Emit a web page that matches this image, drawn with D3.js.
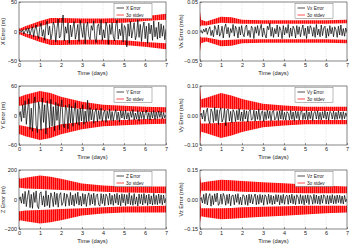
<!DOCTYPE html>
<html>
<head>
<meta charset="utf-8">
<script src="https://cdn.jsdelivr.net/npm/d3@7"></script>
<style>
  body { margin: 0; background: #fff; }
  svg { display: block; font-family: "Liberation Sans", Arial, sans-serif; }
</style>
</head>
<body>
<div id="chart"></div>
<script>
// envelope sample days (3 sigma bands)
const envDays = [0, 0.05, 0.3, 1, 1.5, 2, 3, 4, 5, 6, 7];
const dayTicks = [0, 1, 2, 3, 4, 5, 6, 7];

// X error (m)
const xErr = [0, 2, -1, 3, -4, 1, 5, -3, 6, -6, 2, 8, -9, 4, 11, -5, -12, 7, 14, -8, 3, -15, 12, 18, -6, 9, -14, -4, 16, 10, -18, 5, 21, -11, -7, 13, 28, -16, 8, -3, 15, -20, 11, -9, 6, 17, -13, -2, 12, -17, 19, 4, -10, 14, -21, 7, 16, -8, -14, 10, 2, 18, -12, -19, 9, 13, -6, 20, -15, 3, -11, 16, 8, -22, 12, -5, 15, -9, -16, 11, 19, -13, 4, -7, 14, -18, 10, 6, -26, 13, -8, 17, -11, 2, 15, -14, -6, 20, -10, 12, -17, 5, 16, -12, 9, -20, 14, -4, 11, -15, 18, -9, 7, -13, 16, -11, 13, -8, 10, -14, 4];
const xOuter = [5, 5, 9, 18, 23, 23, 22, 22, 23, 26, 30];
const xInner = [1, 1, 3, 9, 14, 15, 14, 14, 15, 18, 20];

// Vx error (m/s)
const vxErr = [0.000, 0.002, -0.003, 0.004, -0.001, 0.006, -0.005, 0.003, 0.008, -0.007, 0.002, -0.009, 0.010, 0.004, -0.006, 0.011, -0.008, -0.003, 0.009, -0.011, 0.006, 0.013, -0.004, 0.007, -0.010, 0.005, -0.002, 0.012, -0.008, 0.009, 0.003, -0.011, 0.008, -0.006, 0.010, -0.004, -0.009, 0.007, 0.011, -0.007, 0.002, -0.010, 0.009, 0.005, -0.012, 0.008, -0.003, 0.010, -0.007, 0.004, 0.012, -0.009, 0.006, -0.005, -0.011, 0.009, 0.003, 0.014, -0.008, 0.007, -0.010, 0.005, -0.004, 0.011, -0.009, 0.008, 0.002, -0.012, 0.010, -0.006, 0.007, -0.003, 0.012, -0.010, 0.006, -0.008, 0.009, 0.004, -0.011, 0.010, -0.005, 0.008, -0.009, 0.003, 0.011, -0.007, 0.006, -0.012, 0.009, -0.004, 0.010, 0.005, -0.008, 0.007, -0.010, 0.012, -0.006, 0.004, -0.009, 0.011, -0.007, 0.006, 0.009, -0.011, 0.005, -0.008, 0.010, -0.004, 0.007, -0.009, 0.008, 0.003, -0.010, 0.009, -0.006, 0.011, -0.007, 0.005, -0.008, 0.006, -0.002];
const vxOuter = [0.034, 0.020, 0.017, 0.025, 0.024, 0.020, 0.019, 0.019, 0.019, 0.019, 0.020];
const vxInner = [0.008, 0.010, 0.010, 0.015, 0.014, 0.013, 0.013, 0.013, 0.013, 0.013, 0.014];

// Y error (m)
const yErr = [0, 8, -12, 22, -5, 30, -18, 10, 34, -28, 15, -32, 25, 38, -20, -35, 28, 12, -30, 36, -14, 22, -38, 30, 5, -26, 33, -22, 18, -31, 27, -10, 24, -29, 16, 32, -19, -25, 21, 11, -27, 23, -15, 19, -22, 8, 26, -17, 13, -20, 15, -11, 22, -18, 9, -14, 31, -12, 16, -9, 12, -16, 7, 14, -13, 10, -8, 15, -12, 5, 11, -14, 9, -6, 13, -10, 8, -11, 4, 12, -9, 7, -13, 10, -5, 9, -8, 11, -7, 6, -10, 8, -4, 12, -9, 5, -7, 10, -11, 7, -6, 9, -8, 4, 11, -7, 6, -9, 8, -5, 10, -8, 7, -6, 9, -4, 8, -7, 6, -5, 2];
const yOuter = [38, 38, 42, 50, 46, 38, 28, 22, 20, 18, 17];
const yInner = [20, 20, 22, 28, 24, 18, 13, 10, 9, 7, 6];

// Vy error (m/s)
const vyErr = [0.000, 0.008, -0.012, 0.018, -0.020, 0.010, 0.025, -0.015, -0.028, 0.022, 0.012, -0.024, 0.028, -0.018, 0.020, -0.030, 0.015, 0.026, -0.022, -0.010, 0.024, -0.035, 0.018, 0.022, -0.019, 0.014, -0.024, 0.020, 0.010, -0.021, 0.017, -0.015, 0.023, -0.018, 0.012, -0.020, 0.019, -0.012, 0.016, -0.022, 0.014, 0.020, -0.016, -0.011, 0.018, -0.019, 0.015, -0.013, 0.021, -0.017, 0.009, 0.016, -0.020, 0.013, -0.014, 0.018, -0.010, 0.015, -0.018, 0.012, 0.017, -0.015, -0.009, 0.014, -0.017, 0.016, -0.012, 0.019, -0.014, 0.011, -0.016, 0.013, 0.008, -0.015, 0.017, -0.013, 0.012, -0.018, 0.015, -0.010, 0.014, -0.016, 0.011, 0.016, -0.014, 0.009, -0.013, 0.017, -0.015, 0.012, -0.011, 0.015, -0.017, 0.010, 0.014, -0.012, 0.016, -0.014, 0.011, -0.015, 0.013, -0.009, 0.016, -0.013, 0.012, -0.016, 0.014, 0.010, -0.012, 0.015, -0.014, 0.011, -0.013, 0.016, -0.010, 0.012, -0.014, 0.013, -0.011, 0.009, -0.004];
const vyOuter = [0.100, 0.055, 0.060, 0.076, 0.068, 0.056, 0.040, 0.034, 0.030, 0.030, 0.030];
const vyInner = [0.000, 0.027, 0.027, 0.025, 0.022, 0.020, 0.018, 0.016, 0.015, 0.015, 0.015];

// Z error (m)
const zErr = [0, 18, -25, 40, -30, 55, -48, 20, 62, -55, 35, -60, 48, -20, 58, -45, -62, 40, 52, -38, 25, -50, 60, -42, 30, -55, 45, 15, -48, 50, -35, 42, -52, 28, 46, -40, -20, 44, -46, 38, 12, -42, 48, -36, 30, -45, 40, -28, 50, -38, 22, -44, 41, -32, 36, -47, 18, 45, -39, 34, -30, 43, -41, 26, 38, -35, -45, 40, -28, 35, -42, 37, 20, -38, 44, -33, 29, -40, 36, -25, 42, -37, 31, -43, 39, -22, 35, -41, 33, -30, 46, -36, 27, -39, 40, -32, 18, -44, 38, -29, 34, -37, 41, -26, 30, -40, 36, -31, 25, -38, 42, -33, 28, -35, 37, -27, 32, -36, 30, -24, 10];
const zOuter = [150, 140, 148, 162, 155, 140, 108, 95, 88, 88, 88];
const zInner = [80, 80, 75, 72, 68, 65, 60, 52, 48, 45, 43];

// Vz error (m/s)
const vzErr = [0.000, 0.010, -0.018, 0.026, -0.022, 0.032, -0.028, 0.015, 0.030, -0.034, 0.020, -0.026, 0.029, -0.012, 0.033, -0.030, -0.018, 0.027, -0.024, 0.031, 0.014, -0.029, 0.025, -0.021, 0.028, -0.032, 0.019, 0.023, -0.027, 0.026, -0.015, 0.030, -0.025, 0.012, -0.028, 0.024, 0.020, -0.026, 0.022, -0.030, 0.027, -0.018, 0.025, -0.023, 0.011, 0.028, -0.027, 0.021, -0.024, 0.026, -0.016, 0.023, -0.029, 0.024, 0.015, -0.025, 0.027, -0.020, 0.022, -0.026, 0.018, -0.023, 0.025, -0.012, 0.024, -0.027, 0.021, -0.019, 0.026, -0.024, 0.016, 0.022, -0.025, 0.023, -0.018, 0.027, -0.022, 0.019, -0.026, 0.024, 0.013, -0.023, 0.025, -0.021, 0.020, -0.027, 0.022, -0.017, 0.024, -0.025, 0.021, 0.012, -0.024, 0.026, -0.020, 0.023, -0.022, 0.018, -0.025, 0.022, -0.019, 0.024, 0.014, -0.023, 0.021, -0.024, 0.020, -0.018, 0.025, -0.022, 0.019, -0.021, 0.023, -0.016, 0.022, -0.020, 0.018, -0.023, 0.021, -0.012, 0.004];
const vzOuter = [0.120, 0.085, 0.090, 0.100, 0.098, 0.094, 0.088, 0.082, 0.076, 0.070, 0.066];
const vzInner = [0.000, 0.045, 0.045, 0.045, 0.043, 0.040, 0.037, 0.034, 0.032, 0.032, 0.032];

const panels = [
  {col: 0, row: 0, err: xErr, outer: xOuter, inner: xInner, lim: 50, ticks: [-50, 0, 50], fmt: "d", ylabel: "X Error (m)", name: "X Error"},
  {col: 1, row: 0, err: vxErr, outer: vxOuter, inner: vxInner, lim: 0.05, ticks: [-0.05, 0, 0.05], fmt: ".2f", ylabel: "Vx Error (m/s)", name: "Vx Error"},
  {col: 0, row: 1, err: yErr, outer: yOuter, inner: yInner, lim: 60, ticks: [-60, 0, 60], fmt: "d", ylabel: "Y Error (m)", name: "Y Error"},
  {col: 1, row: 1, err: vyErr, outer: vyOuter, inner: vyInner, lim: 0.1, ticks: [-0.1, 0, 0.1], fmt: ".2f", ylabel: "Vy Error (m/s)", name: "Vy Error"},
  {col: 0, row: 2, err: zErr, outer: zOuter, inner: zInner, lim: 200, ticks: [-200, 0, 200], fmt: "d", ylabel: "Z Error (m)", name: "Z Error"},
  {col: 1, row: 2, err: vzErr, outer: vzOuter, inner: vzInner, lim: 0.15, ticks: [-0.15, 0, 0.15], fmt: ".2f", ylabel: "Vz Error (m/s)", name: "Vz Error"}
];

const W = 350, H = 245;
const colX = [19, 200], rowY = [2, 86, 170];
const pw = 147, ph = 59;

const svg = d3.select("#chart").append("svg")
    .attr("width", W)
    .attr("height", H);

// striped red fill stands in for the dense oscillating 3 sigma lines
const defs = svg.append("defs");
const pat = defs.append("pattern")
    .attr("id", "stripes")
    .attr("patternUnits", "userSpaceOnUse")
    .attr("width", 2)
    .attr("height", 4);
pat.append("rect").attr("width", 2).attr("height", 4).attr("fill", "#ff6a6a");
pat.append("rect").attr("width", 1.2).attr("height", 4).attr("fill", "#ff0000");

panels.forEach((p, k) => {
    const g = svg.append("g")
        .attr("transform", `translate(${colX[p.col]},${rowY[p.row]})`);

    const x = d3.scaleLinear().domain([0, 7]).range([0, pw]);
    const y = d3.scaleLinear().domain([-p.lim, p.lim]).range([ph, 0]);

    defs.append("clipPath").attr("id", "clip" + k)
        .append("rect").attr("width", pw).attr("height", ph);

    // grid
    g.append("g")
        .selectAll("line")
        .data(dayTicks.slice(1, -1))
        .join("line")
        .attr("x1", d => x(d)).attr("x2", d => x(d))
        .attr("y1", 0).attr("y2", ph)
        .attr("stroke", "#d0d0d0")
        .attr("stroke-width", 0.5)
        .attr("stroke-dasharray", "1,1");

    const plot = g.append("g").attr("clip-path", `url(#clip${k})`);

    // upper and lower 3 sigma bands
    const env = envDays.map((d, i) => ({t: d, o: p.outer[i], n: p.inner[i]}));
    const upper = d3.area().x(d => x(d.t)).y0(d => y(d.n)).y1(d => y(d.o));
    const lower = d3.area().x(d => x(d.t)).y0(d => y(-d.n)).y1(d => y(-d.o));
    plot.append("path").datum(env).attr("d", upper).attr("fill", "url(#stripes)");
    plot.append("path").datum(env).attr("d", lower).attr("fill", "url(#stripes)");

    // error line
    const n = p.err.length;
    const line = d3.line()
        .x((d, i) => x(i * 7 / (n - 1)))
        .y(d => y(d));
    plot.append("path").datum(p.err)
        .attr("d", line)
        .attr("fill", "none")
        .attr("stroke", "#000")
        .attr("stroke-width", 0.7);

    // axes
    const fmt = d3.format(p.fmt);
    const xa = g.append("g")
        .attr("transform", `translate(0,${ph})`)
        .call(d3.axisBottom(x).tickValues(dayTicks).tickSize(-2).tickPadding(2).tickFormat(d3.format("d")));
    const ya = g.append("g")
        .call(d3.axisLeft(y).tickValues(p.ticks).tickSize(-2).tickPadding(2).tickFormat(d => fmt(d)));
    [xa, ya].forEach(a => {
        a.select(".domain").remove();
        a.selectAll("line").attr("stroke", "#333").attr("stroke-width", 0.5);
        a.selectAll("text").attr("font-size", 5.5).attr("fill", "#222").attr("font-family", null);
    });

    g.append("rect")
        .attr("width", pw).attr("height", ph)
        .attr("fill", "none")
        .attr("stroke", "#333")
        .attr("stroke-width", 0.6);

    g.append("text")
        .attr("x", pw / 2)
        .attr("y", ph + 13.5)
        .attr("text-anchor", "middle")
        .attr("font-size", 5.8)
        .attr("fill", "#222")
        .text("Time (days)");

    g.append("text")
        .attr("transform", `translate(${p.col === 0 ? -14 : -17},${ph / 2}) rotate(-90)`)
        .attr("text-anchor", "middle")
        .attr("font-size", 5.5)
        .attr("fill", "#222")
        .text(p.ylabel);

    // legend
    const lg = g.append("g").attr("transform", `translate(${pw - 52},1.5)`);
    lg.append("rect")
        .attr("width", 38).attr("height", 15)
        .attr("fill", "#fff")
        .attr("stroke", "#555")
        .attr("stroke-width", 0.4);
    [[p.name, "#000"], ["3\u03c3 stdev", "#ff0000"]].forEach(([label, c], i) => {
        const yy = 4.5 + i * 7;
        lg.append("line")
            .attr("x1", 2.5).attr("x2", 10)
            .attr("y1", yy).attr("y2", yy)
            .attr("stroke", c)
            .attr("stroke-width", 0.7);
        lg.append("text")
            .attr("x", 12).attr("y", yy + 1.6)
            .attr("font-size", 4.6)
            .attr("fill", "#222")
            .text(label);
    });
});
</script>
</body>
</html>
